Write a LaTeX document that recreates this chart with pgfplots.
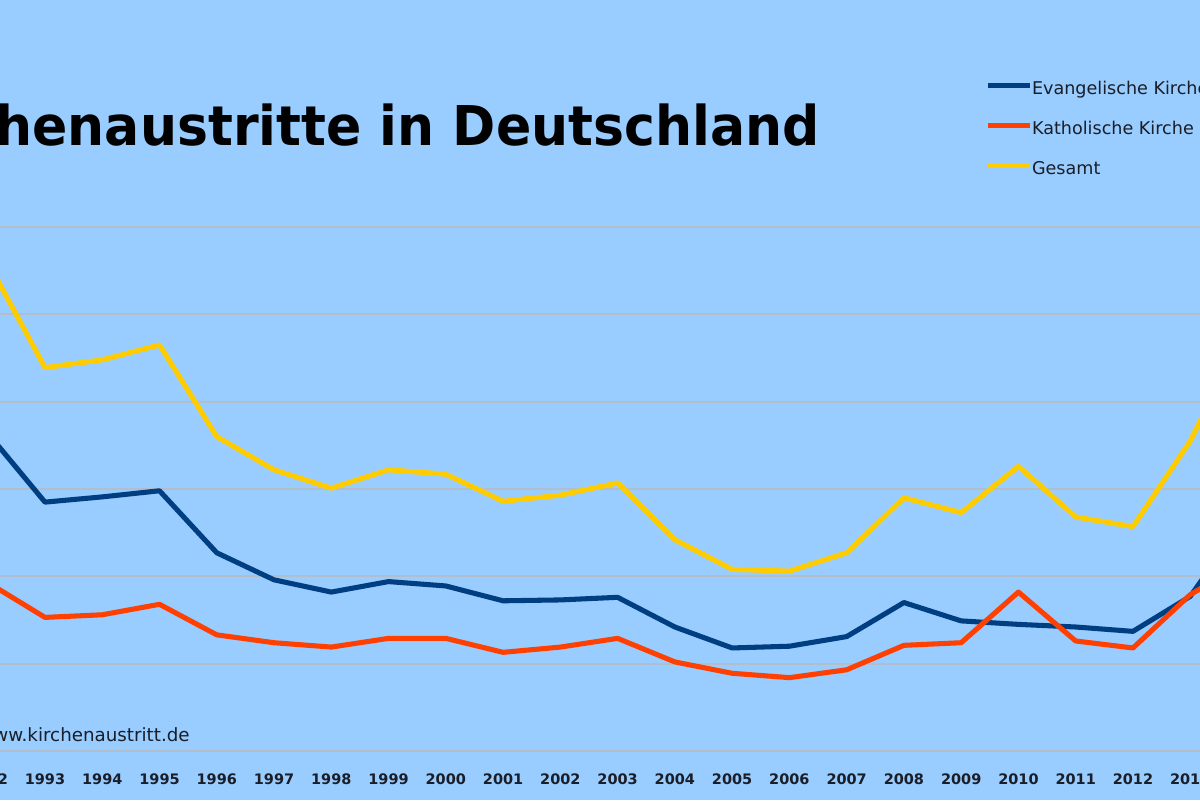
\documentclass[border=0pt]{standalone}
\usepackage{pgfplots}
\pgfplotsset{compat=1.18}
\usepackage{fontspec}
\setmainfont{DejaVu Sans}
\definecolor{bgblue}{RGB}{153,204,255}
\definecolor{evblue}{RGB}{0,62,130}
\definecolor{kared}{RGB}{255,64,0}
\definecolor{geyel}{RGB}{255,204,0}
\definecolor{gridc}{RGB}{178,190,204}
\definecolor{txt}{RGB}{25,30,40}
\begin{document}
\begin{tikzpicture}
\fill[bgblue] (0,-1.225) rectangle (30,18.775);
\begin{axis}[
  at={(-1.0225cm,0)}, anchor=south west,
  scale only axis, width=32.925cm, height=18.775cm,
  xmin=1991.5, xmax=2014.5, ymin=0, ymax=8.6,
  axis line style={draw=none},
  ytick={0,1,2,3,4,5,6}, yticklabels={},
  ymajorgrids, major grid style={gridc, line width=1.3pt},
  major tick length=0pt,
  xtick={1992,1993,...,2014},
  xticklabels={1992,1993,1994,1995,1996,1997,1998,1999,2000,2001,2002,2003,2004,2005,2006,2007,2008,2009,2010,2011,2012,2013,2014},
  xticklabel style={anchor=center, yshift=-0.7cm, font=\fontsize{10.3}{12}\selectfont\bfseries, text=txt},
  legend style={at={(axis cs:2009.416,7.656)}, anchor=north west, draw=none, fill=none,
    inner sep=0pt, outer sep=0pt, row sep=0.6cm,
    font=\fontsize{12.5}{13}\selectfont, text=txt,
    nodes={inner sep=0pt, text height=0.3cm, text depth=0.1cm},
    /tikz/every even column/.append style={column sep=0.075cm}},
  legend image code/.code={\draw[#1] (0cm,0.12cm) -- (1.05cm,0.12cm);},
  legend cell align=left,
  every axis plot/.append style={line width=3.6pt, line join=round},
]
\addplot[evblue] coordinates {(1992,3.64) (1993,2.85) (1994,2.91) (1995,2.98) (1996,2.27) (1997,1.96) (1998,1.82) (1999,1.94) (2000,1.89) (2001,1.72) (2002,1.73) (2003,1.76) (2004,1.42) (2005,1.18) (2006,1.20) (2007,1.31) (2008,1.70) (2009,1.49) (2010,1.45) (2011,1.42) (2012,1.37) (2013,1.77) (2014,2.70)};
\addlegendentry{Evangelische Kirche}
\addplot[kared] coordinates {(1992,1.93) (1993,1.53) (1994,1.56) (1995,1.68) (1996,1.33) (1997,1.24) (1998,1.19) (1999,1.29) (2000,1.29) (2001,1.13) (2002,1.19) (2003,1.29) (2004,1.02) (2005,0.89) (2006,0.84) (2007,0.93) (2008,1.21) (2009,1.24) (2010,1.82) (2011,1.26) (2012,1.18) (2013,1.79) (2014,2.18)};
\addlegendentry{Katholische Kirche}
\addplot[geyel] coordinates {(1992,5.60) (1993,4.39) (1994,4.48) (1995,4.65) (1996,3.60) (1997,3.22) (1998,3.01) (1999,3.22) (2000,3.17) (2001,2.86) (2002,2.93) (2003,3.07) (2004,2.42) (2005,2.08) (2006,2.06) (2007,2.27) (2008,2.90) (2009,2.73) (2010,3.26) (2011,2.68) (2012,2.57) (2013,3.55) (2014,4.88)};
\addlegendentry{Gesamt}
\node[anchor=base east, inner sep=0pt, text=black] at (axis cs:2006.535,6.939) {\scalebox{0.95}[1]{\fontsize{39}{42}\selectfont\bfseries Kirchenaustritte in Deutschland}};
\node[anchor=mid east, inner sep=0pt, text=txt] at (axis cs:1995.532,0.149) {\fontsize{13}{14}\selectfont www.kirchenaustritt.de};
\end{axis}
\pgfresetboundingbox
\useasboundingbox (0,-1.225) rectangle (30,18.775);
\end{tikzpicture}
\end{document}
